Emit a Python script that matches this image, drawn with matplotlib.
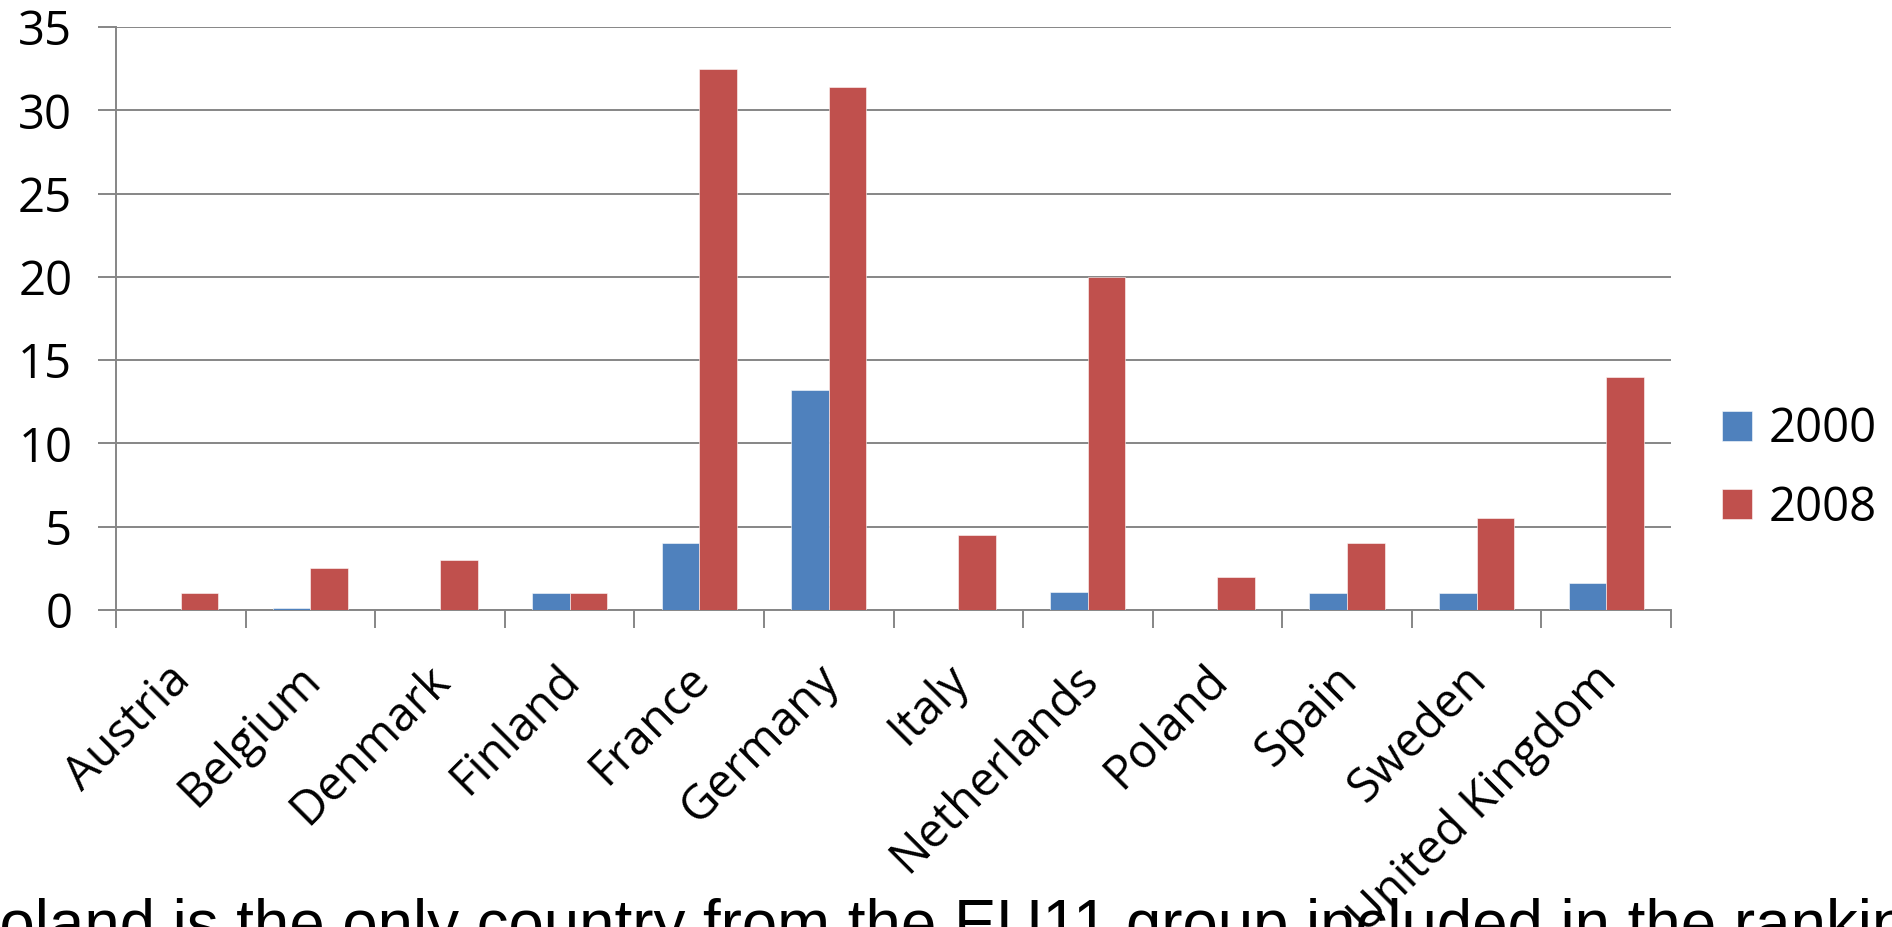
import matplotlib
matplotlib.use("Agg")
import matplotlib.pyplot as plt
import matplotlib.transforms as mtransforms
import numpy as np

countries = ["Austria", "Belgium", "Denmark", "Finland", "France", "Germany",
             "Italy", "Netherlands", "Poland", "Spain", "Sweden", "United Kingdom"]
values_2000 = [0, 0.15, 0, 1, 4, 13.2, 0, 1.1, 0, 1, 1, 1.6]
values_2008 = [1, 2.5, 3, 1, 32.5, 31.4, 4.5, 20, 2, 4, 5.5, 14]
series_labels = ["2000", "2008"]
y_ticks = [0, 5, 10, 15, 20, 25, 30, 35]
caption = "Poland is the only country from the EU11 group included in the ranking"

BLUE = "#4F81BD"
RED = "#C0504D"
GRID = "#868686"
LABEL_FONT = ["Open Sans", "DejaVu Sans"]
FS = 34

W, H = 1892, 927
fig = plt.figure(figsize=(W / 100, H / 100), dpi=100)
ax = fig.add_axes([116 / W, 1 - 610 / H, (1671 - 116) / W, (610 - 27) / H])

x = np.arange(len(countries))
bw = 0.29
edge = (1, 1, 1, 0.55)
ax.bar(x - bw / 2, values_2000, width=bw, color=BLUE, edgecolor=edge,
       linewidth=0.7, label=series_labels[0], zorder=3)
ax.bar(x + bw / 2, values_2008, width=bw, color=RED, edgecolor=edge,
       linewidth=0.7, label=series_labels[1], zorder=3)

ax.set_xlim(-0.5, len(countries) - 0.5)
ax.set_ylim(0, 35)

# horizontal gridlines with outward tick stubs on the left
ax.set_yticks(y_ticks)
ax.set_yticklabels([str(v) for v in y_ticks], fontfamily=LABEL_FONT, fontsize=FS)
ax.yaxis.grid(True, color=GRID, linewidth=1.4, zorder=0)
ax.set_axisbelow(True)
ax.tick_params(axis="y", direction="out", length=13, width=1.4, color=GRID,
               pad=18.5, labelcolor="black")

# category boundaries as major ticks, names on minor ticks at the centres
ax.set_xticks(np.arange(-0.5, len(countries), 1.0))
ax.set_xticklabels([])
ax.tick_params(axis="x", which="major", direction="out", length=13,
               width=1.4, color=GRID)
ax.set_xticks(x, minor=True)
ax.set_xticklabels(countries, minor=True, rotation=45, ha="right",
                   va="top", rotation_mode="anchor",
                   fontfamily=LABEL_FONT, fontsize=FS)
ax.tick_params(axis="x", which="minor", length=0, pad=33)
shift = mtransforms.ScaledTranslation(-14 / 100, 0, fig.dpi_scale_trans)
for lab in ax.get_xticklabels(minor=True):
    lab.set_transform(lab.get_transform() + shift)

for side in ("top", "right"):
    ax.spines[side].set_visible(False)
for side in ("left", "bottom"):
    ax.spines[side].set_color(GRID)
    ax.spines[side].set_linewidth(1.4)

leg = ax.legend(loc="center left", bbox_to_anchor=(1722 / W, 1 - 469 / H),
                bbox_transform=fig.transFigure, frameon=False,
                prop={"family": LABEL_FONT, "size": FS},
                handlelength=0.64, handleheight=0.6, handletextpad=0.34,
                labelspacing=0.66, borderpad=0, borderaxespad=0)

fig.text(-43 / W, -18 / H, caption, fontfamily="Liberation Sans",
         fontsize=45.8, ha="left", va="baseline", color="black")

fig.savefig("out.png", dpi=100)
